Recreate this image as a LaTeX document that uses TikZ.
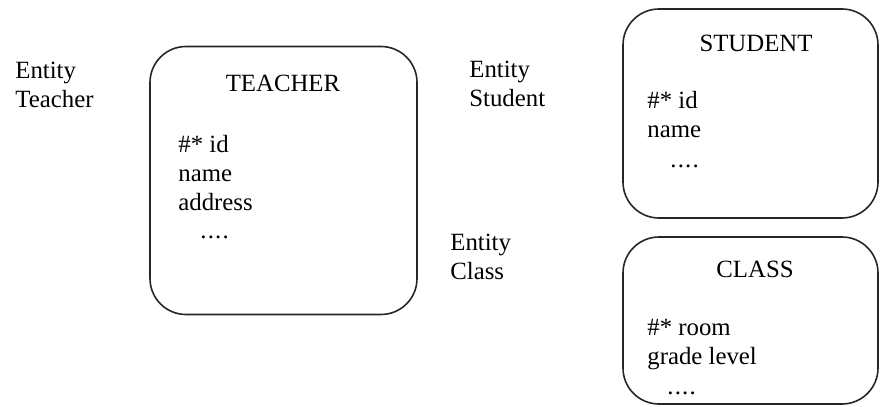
\documentclass[tikz,border=0pt]{standalone}
\usepackage{fontspec}
\setmainfont{Liberation Serif}
\usetikzlibrary{positioning}
\newcommand{\moredots}{.\kern0.6pt.\kern0.6pt.\kern0.6pt.}
\tikzset{
    entbox/.style = {rectangle, rounded corners=18pt, draw=black!85, line width=0.8pt, inner sep=0pt},
    title/.style = {anchor=base, inner sep=0pt},
    attr/.style = {anchor=base west, align=left, inner sep=0pt},
    lbl/.style = {anchor=base west, align=left, inner sep=0pt},
    more/.style = {anchor=base west, inner sep=0pt}
}

\begin{document}
\begin{tikzpicture}[x=0.5pt, y=-0.5pt, font=\fontsize{12.4}{14.5}\selectfont]
\useasboundingbox (0,0) rectangle (880,407);

% teacher
\node[entbox, minimum width=133.5pt, minimum height=134pt] (teacher) at (283.5,180.5) {};
\node[title] (teachertitle) at (283,91) {TEACHER};
\node[attr] (teacherattr) at (178,210) {\#* id\\name\\address};
\node[more] (teachermore) at (200,238) {\moredots};
\node[lbl] (teacherlbl) at (15,107) {Entity\\Teacher};

% student
\node[entbox, minimum width=127.5pt, minimum height=104.5pt] (student) at (750.5,113.5) {};
\node[title] (studenttitle) at (756,51) {STUDENT};
\node[attr] (studentattr) at (647,137) {\#* id\\name};
\node[more] (studentmore) at (670,167) {\moredots};
\node[lbl] (studentlbl) at (469,106) {Entity\\Student};

% class
\node[entbox, minimum width=127.5pt, minimum height=83.5pt] (class) at (750.5,320.5) {};
\node[title] (classtitle) at (755,277) {CLASS};
\node[attr] (classattr) at (647,364) {\#* room\\grade level};
\node[more] (classmore) at (667,394) {\moredots};
\node[lbl] (classlbl) at (450,279) {Entity\\Class};
\end{tikzpicture}
\end{document}
